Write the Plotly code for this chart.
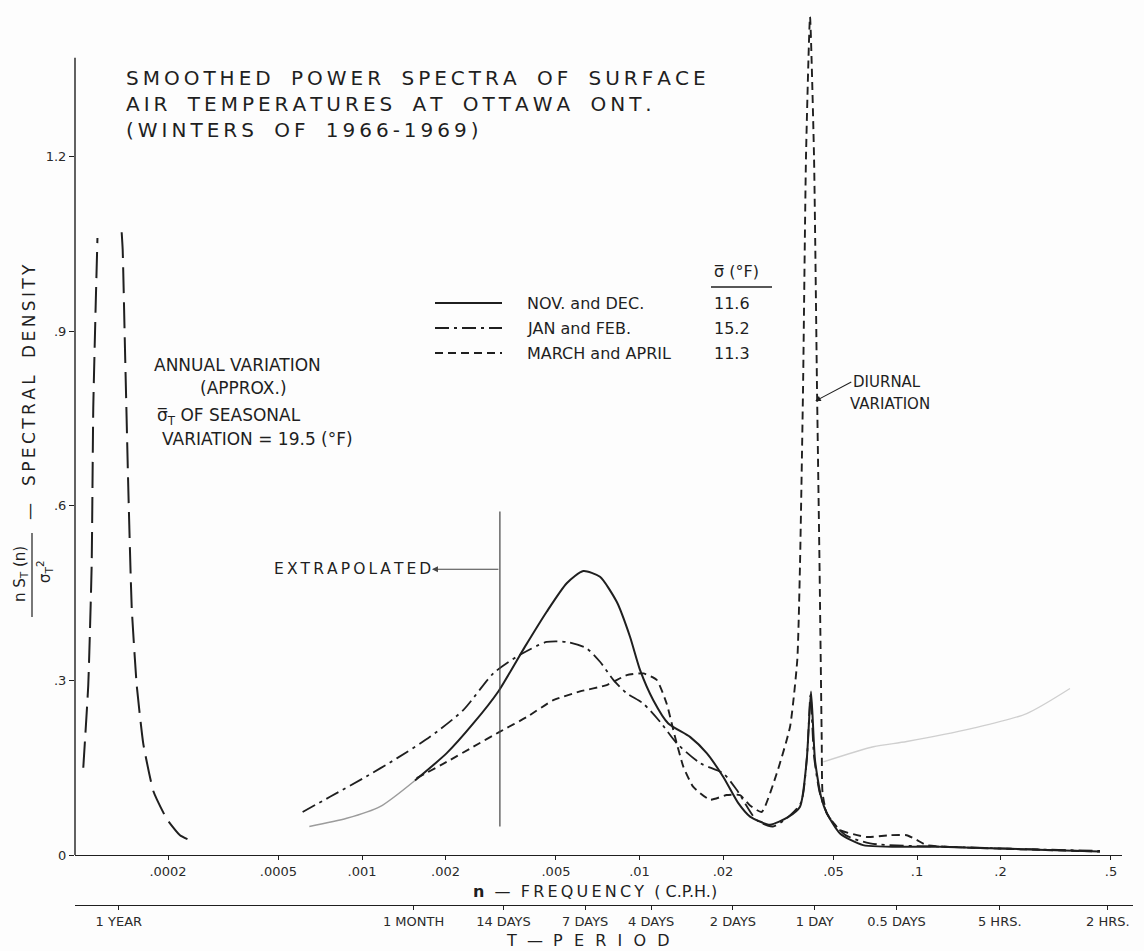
import numpy as np
import plotly.graph_objects as go

# Frequencies in cycles per hour (C.P.H.); densities are n*S_T(n)/sigma_T^2.

# Nov. and Dec. (solid): faint extrapolated start, then the measured spectrum
nov_dec_extrap_f = [6.46e-4, 8.81e-4, 1.161e-3, 1.552e-3]
nov_dec_extrap_s = [0.049, 0.063, 0.083, 0.128]
nov_dec_f = [1.552e-3, 2.020e-3, 2.518e-3, 3.099e-3, 3.867e-3, 4.630e-3, 5.467e-3,
             6.273e-3, 7.206e-3, 8.278e-3, 9.243e-3, 1.0042e-2, 1.1212e-2, 1.2699e-2,
             1.5205e-2, 1.7469e-2, 2.0045e-2, 2.2699e-2, 2.502e-2, 2.953e-2, 3.428e-2,
             3.788e-2, 4.004e-2, 4.150e-2, 4.290e-2, 4.510e-2, 4.728e-2, 5.278e-2,
             6.389e-2, 0.1210, 0.2351, 0.4565]
nov_dec_s = [0.128, 0.175, 0.226, 0.281, 0.358, 0.418, 0.467, 0.488, 0.478, 0.435,
             0.375, 0.318, 0.266, 0.226, 0.203, 0.175, 0.134, 0.089, 0.066, 0.052,
             0.065, 0.083, 0.163, 0.281, 0.163, 0.100, 0.072, 0.037, 0.017, 0.014,
             0.010, 0.006]

# Jan. and Feb. (dash-dot)
jan_feb_f = [6.11e-4, 7.67e-4, 1.011e-3, 1.334e-3, 1.758e-3, 2.317e-3, 2.973e-3,
             3.710e-3, 4.630e-3, 5.467e-3, 6.452e-3, 7.206e-3, 8.048e-3, 8.994e-3,
             1.0321e-2, 1.1855e-2, 1.3618e-2, 1.652e-2, 2.0045e-2, 2.240e-2, 2.644e-2,
             3.027e-2, 3.486e-2, 3.819e-2, 4.014e-2, 4.133e-2, 4.255e-2, 4.472e-2,
             4.779e-2, 5.501e-2, 6.77e-2, 0.1315, 0.2554, 0.4565]
jan_feb_s = [0.074, 0.100, 0.132, 0.166, 0.203, 0.249, 0.312, 0.344, 0.366, 0.366,
             0.355, 0.332, 0.301, 0.278, 0.260, 0.229, 0.192, 0.158, 0.140, 0.112,
             0.060, 0.049, 0.068, 0.090, 0.170, 0.275, 0.170, 0.105, 0.068, 0.035,
             0.020, 0.014, 0.010, 0.007]

# March and April (dashed)
mar_apr_f = [1.574e-3, 2.020e-3, 2.518e-3, 3.143e-3, 3.922e-3, 4.891e-3, 6.104e-3,
             7.617e-3, 8.994e-3, 1.0321e-2, 1.1535e-2, 1.2531e-2, 1.3425e-2, 1.4383e-2,
             1.5627e-2, 1.7955e-2, 2.0615e-2, 2.302e-2, 2.502e-2, 2.757e-2, 3.122e-2,
             3.486e-2, 3.703e-2, 3.788e-2, 3.884e-2, 3.981e-2, 4.116e-2, 4.255e-2,
             4.362e-2, 4.453e-2, 4.535e-2, 4.566e-2, 4.728e-2, 5.278e-2, 6.59e-2,
             7.99e-2, 9.18e-2, 9.97e-2, 0.1084, 0.2351, 0.4565]
mar_apr_s = [0.132, 0.160, 0.186, 0.212, 0.237, 0.266, 0.281, 0.292, 0.309, 0.312,
             0.301, 0.260, 0.203, 0.152, 0.117, 0.095, 0.103, 0.103, 0.085, 0.074,
             0.140, 0.220, 0.335, 0.500, 0.800, 1.200, 1.440, 1.200, 0.800, 0.500,
             0.200, 0.107, 0.072, 0.043, 0.031, 0.034, 0.034, 0.026, 0.017, 0.010,
             0.006]

# Annual variation (approx.): two open branches around one cycle per year
annual_f = [9.90e-5, 1.0318e-4, 1.0613e-4, 1.0755e-4, 1.0981e-4, 1.1135e-4, None,
            1.3614e-4, 1.3730e-4, 1.3993e-4, 1.4382e-4, 1.4795e-4, 1.5422e-4,
            1.6290e-4, 1.7700e-4, 1.9780e-4, 2.2085e-4, 2.4327e-4]
annual_s = [0.150, 0.292, 0.497, 0.768, 0.950, 1.060, None,
            1.070, 1.040, 0.870, 0.631, 0.426, 0.292, 0.191, 0.110, 0.062, 0.034, 0.024]

# faint stray pencil line on the right-hand side of the sheet
stray_f = [4.597e-2, 6.96e-2, 9.18e-2, 0.1596, 0.2485, 0.3558]
stray_s = [0.160, 0.186, 0.195, 0.218, 0.243, 0.286]

# limit of the measured record (left of it the curves are extrapolated)
extrap_f = 3.14e-3
extrap_s = [0.049, 0.590]

# axes
freq_ticks = [0.0002, 0.0005, 0.001, 0.002, 0.005, 0.01, 0.02, 0.05, 0.1, 0.2, 0.5]
freq_labels = [".0002", ".0005", ".001", ".002", ".005", ".01", ".02", ".05", ".1", ".2", ".5"]
period_hours = [8760, 720, 336, 168, 96, 48, 24, 12, 5, 2]
period_labels = ["1 YEAR", "1 MONTH", "14 DAYS", "7 DAYS", "4 DAYS", "2 DAYS",
                 "1 DAY", "0.5 DAYS", "5 HRS.", "2 HRS."]
dens_ticks = [0, 0.3, 0.6, 0.9, 1.2]
dens_labels = ["0", ".3", ".6", ".9", "1.2"]

legend_names = ["NOV. and DEC.", "JAN and FEB.", "MARCH and APRIL"]
legend_sigma = ["11.6", "15.2", "11.3"]

title_lines = ["SMOOTHED POWER SPECTRA OF SURFACE",
               "AIR TEMPERATURES AT OTTAWA ONT.",
               "(WINTERS OF 1966-1969)"]
annual_note = ["ANNUAL VARIATION", "(APPROX.)", "σ\u0305<sub>T</sub> OF SEASONAL",
               "VARIATION = 19.5 (°F)"]

# ---------------------------------------------------------------------------
FONT = "DejaVu Sans"
INK = "#1f1f1f"
FAINT = "#9c9c9c"
W, H = 1144, 951
ML, MR, MT, MB = 75, 11, 5, 46
PW, PH = W - ML - MR, H - MT - MB

SOLID = "solid"
DASHDOT = "14px,5px,3px,5px"
DASHED = "8px,5px"
LONGDASH = "26px,9px"
THIN = "\u2009"
WORD_GAP = " \u2002\u2009"


def xp(px):
    return (px - ML) / PW


def yp(py):
    return (H - MB - py) / PH


def spaced(text, sep=THIN, gap=WORD_GAP):
    # open lettering: a thin space between letters, a wide gap between words
    return gap.join(sep.join(word) for word in text.split(" "))


fig = go.Figure()


def curve(x, y, dash, color=INK, width=2.0, smooth=0.7):
    fig.add_trace(go.Scatter(
        x=x, y=y, mode="lines", showlegend=False, hoverinfo="skip",
        line=dict(color=color, width=width, dash=dash, shape="spline", smoothing=smooth),
        connectgaps=False))


curve(stray_f, stray_s, SOLID, color="#cfcfcf", width=1.3)
curve(annual_f, annual_s, LONGDASH, width=2.0, smooth=0.4)
curve(nov_dec_extrap_f, nov_dec_extrap_s, SOLID, color=FAINT, width=1.5)
curve(jan_feb_f, jan_feb_s, DASHDOT, width=1.8)
curve(mar_apr_f, mar_apr_s, DASHED, width=1.9, smooth=0.5)
curve(nov_dec_f, nov_dec_s, SOLID, width=2.0, smooth=0.6)

# vertical marker separating the extrapolated range
fig.add_trace(go.Scatter(x=[extrap_f, extrap_f], y=extrap_s, mode="lines",
                         showlegend=False, hoverinfo="skip",
                         line=dict(color="#444", width=1.2)))

# carrier for the period axis
fig.add_trace(go.Scatter(x=[1.0 / period_hours[0]], y=[None], xaxis="x2", yaxis="y",
                         mode="lines", showlegend=False, hoverinfo="skip"))

annotations = []
shapes = []


def label(text, px, py, size, anchor="left", angle=0, color=INK, align="left"):
    annotations.append(dict(text=text, x=xp(px), y=yp(py), xref="paper", yref="paper",
                            xanchor=anchor, yanchor="middle", showarrow=False,
                            align=align, textangle=angle,
                            font=dict(family=FONT, size=size, color=color)))


# title block
label("<br>".join(spaced(t) for t in title_lines), 124, 104, 20)

# legend block
label("σ\u0305 (°F)", 712, 272, 16)
shapes.append(dict(type="line", xref="paper", yref="paper", x0=xp(711), x1=xp(772),
                   y0=yp(287), y1=yp(287), line=dict(color=INK, width=1.3)))
for i, (name, sig, dash) in enumerate(zip(legend_names, legend_sigma,
                                          [SOLID, DASHDOT, DASHED])):
    ry = 303 + 25 * i
    shapes.append(dict(type="line", xref="paper", yref="paper", x0=xp(435), x1=xp(502),
                       y0=yp(ry), y1=yp(ry), line=dict(color=INK, width=1.8, dash=dash)))
    label(name, 525, ry, 16)
    label(sig, 712, ry, 16)

# annual variation note
for text, px, py in zip(annual_note, [152, 198, 155, 160], [365, 388, 416, 439]):
    label(text, px, py, 17)

# extrapolated note with arrow back from the marker line
label(spaced("EXTRAPOLATED"), 272, 569, 15.5)
v_arrow = 0.491
annotations.append(dict(x=np.log10(extrap_f) - 68 / 277.5, y=v_arrow, xref="x", yref="y",
                        ax=np.log10(extrap_f), ay=v_arrow, axref="x", ayref="y",
                        text="", showarrow=True, arrowhead=2, arrowsize=1.1,
                        arrowwidth=1.1, arrowcolor="#444"))

# diurnal variation note
annotations.append(dict(x=np.log10(4.30e-2), y=0.78, xref="x", yref="y",
                        text="DIURNAL", ax=36, ay=-19, xanchor="left", yanchor="middle",
                        showarrow=True, arrowhead=2, arrowsize=1.0, arrowwidth=1.1,
                        arrowcolor=INK, font=dict(family=FONT, size=15, color=INK)))
label("VARIATION", 848, 404, 15)

# axis titles
label("<b>n</b>  —  " + spaced("FREQUENCY") + "  ( C.P.H.)", 595, 891, 16, anchor="center")
label("T  —  " + "\u2002\u2009".join("PERIOD"), 588, 940, 16, anchor="center")
label("—\u2003" + spaced("SPECTRAL DENSITY"), 29, 392, 17, anchor="center", angle=-90)
label("n S<sub>T</sub> (n)", 20, 574, 15, anchor="center", angle=-90)
label("σ<sub>T</sub><sup>2</sup>", 44, 572, 15, anchor="center", angle=-90)
shapes.append(dict(type="line", xref="paper", yref="paper", x0=xp(32), x1=xp(32),
                   y0=yp(533), y1=yp(617), line=dict(color=INK, width=1.2)))

# density axis line stops short of the plot top
shapes.append(dict(type="line", xref="paper", yref="y", x0=0, x1=0, y0=0, y1=1.37,
                   line=dict(color=INK, width=1.4)))

y_top = (H - MB - MT - 50) / 582.0

fig.update_layout(
    width=W, height=H,
    margin=dict(l=ML, r=MR, t=MT, b=MB, pad=0),
    paper_bgcolor="#fdfdfd", plot_bgcolor="rgba(0,0,0,0)",
    showlegend=False,
    font=dict(family=FONT, color=INK),
    xaxis=dict(type="log", domain=[0, xp(1122)], anchor="y",
               range=[-4.0342, -0.2613], showgrid=False, zeroline=False,
               showline=True, linecolor=INK, linewidth=1.4,
               ticks="outside", ticklen=4, tickwidth=1.2, tickcolor=INK,
               tickvals=freq_ticks, ticktext=freq_labels,
               tickfont=dict(family=FONT, size=13, color="#2a2a2a")),
    xaxis2=dict(type="log", domain=[0, 1], anchor="free", position=0,
                range=[-4.1039, -0.2084], showgrid=False, zeroline=False,
                showline=True, linecolor=INK, linewidth=1.4,
                ticks="outside", ticklen=4, tickwidth=1.2, tickcolor=INK,
                tickvals=[1.0 / h for h in period_hours], ticktext=period_labels,
                tickfont=dict(family=FONT, size=13, color="#2a2a2a")),
    yaxis=dict(domain=[50 / PH, 1], range=[0, y_top], showgrid=False, zeroline=False,
               showline=False, ticks="outside", ticklen=5, tickwidth=1.2, tickcolor=INK,
               tickvals=dens_ticks, ticktext=dens_labels,
               tickfont=dict(family=FONT, size=13, color="#2a2a2a")),
    annotations=annotations,
    shapes=shapes,
)

fig.write_html("out.html")
